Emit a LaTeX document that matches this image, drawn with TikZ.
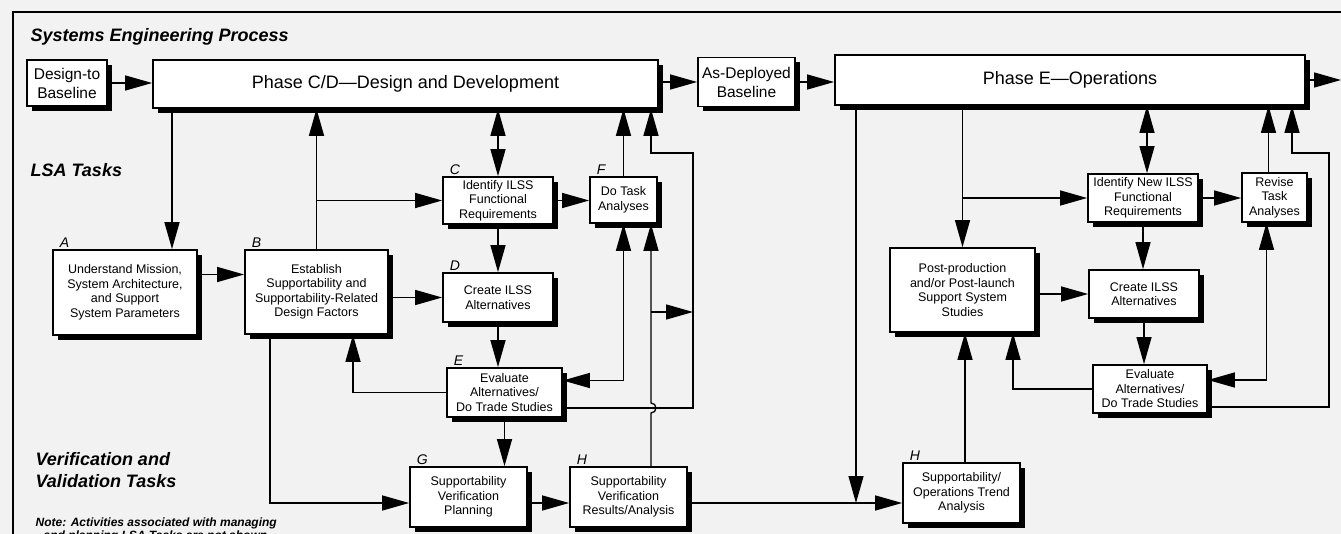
\documentclass[tikz,border=0pt]{standalone}
\usepackage{fontspec}
\setmainfont{Liberation Sans}
\usetikzlibrary{arrows.meta,calc,shadows}

\begin{document}
\begin{tikzpicture}[x=1pt,y=-1pt,>={Triangle[length=27pt,width=15pt]},line width=1.3pt,
  box/.style={draw,line width=1.7pt,fill=white,align=center,inner sep=1pt,
    font=\fontsize{12.5}{14.5}\selectfont,
    drop shadow={shadow xshift=5pt,shadow yshift=-5pt,fill=black,opacity=1}},
  big/.style={box,font=\fontsize{18}{20}\selectfont},
  base/.style={box,font=\fontsize{15.5}{19}\selectfont},
  sz/.style 2 args={minimum width=#1,minimum height=#2},
  lbl/.style={anchor=south west,inner sep=1pt,xshift=6pt,font=\fontsize{14}{14}\selectfont\itshape},
  head/.style={anchor=north west,inner sep=0pt,align=left,font=\fontsize{18}{22}\selectfont\bfseries\itshape}]
\useasboundingbox (0,0) rectangle (1341,534);
\clip (0,0) rectangle (1341,534);
\fill[black!5] (0,0) rectangle (1341,534);
\draw[line width=1.5pt] (13,534) -- (13,12) -- (1341,12);

\node[head] (SEP) at (30,28) {Systems Engineering Process};
\node[head] (LSA) at (30,163) {LSA Tasks};
\node[head] (VVT) at (35,452) {Verification and\\Validation Tasks};
\node[head,font=\fontsize{12}{13}\selectfont\bfseries\itshape] (NOTE) at (35,517)
  {Note: Activities associated with managing\\\hspace{8pt}and planning LSA Tasks are not shown.};

\node[base,sz={80}{46}] (DTB) at (67,83) {Design-to\\Baseline};
\node[big,sz={505}{48}] (PCD) at (405.5,84) {Phase C/D—Design and Development};
\node[base,sz={97}{49}] (ADB) at (746.5,82) {As-Deployed\\Baseline};
\node[big,sz={470}{50}] (PE) at (1070,80) {Phase E—Operations};

\node[box,sz={144}{85}] (A) at (125,292.5) {Understand Mission,\\System Architecture,\\and Support\\System Parameters};
\node[box,sz={143}{84}] (B) at (316.5,292) {Establish\\Supportability and\\Supportability-Related\\Design Factors};
\node[box,sz={110}{47}] (C) at (498,200.5) {Identify ILSS\\Functional\\Requirements};
\node[box,sz={67}{46}] (F) at (623.5,200) {Do Task\\Analyses};
\node[box,sz={110}{49}] (D) at (498,297.5) {Create ILSS\\Alternatives};
\node[box,sz={115}{49}] (E) at (504.5,392.5) {Evaluate\\Alternatives/\\Do Trade Studies};
\node[box,sz={117}{60}] (G) at (468.5,497) {Supportability\\Verification\\Planning};
\node[box,sz={117}{60}] (H) at (628.5,497) {Supportability\\Verification\\Results/Analysis};

\node[box,sz={110}{48}] (IN) at (1143,198) {Identify New ILSS\\Functional\\Requirements};
\node[box,sz={65}{49}] (RT) at (1274.5,197.5) {Revise\\Task\\Analyses};
\node[box,sz={145}{84}] (PP) at (962.5,290) {Post-production\\and/or Post-launch\\Support System\\Studies};
\node[box,sz={110}{48}] (CR) at (1144,294) {Create ILSS\\Alternatives};
\node[box,sz={114}{48}] (ER) at (1150,389) {Evaluate\\Alternatives/\\Do Trade Studies};
\node[box,sz={117}{60}] (SO) at (961.5,493) {Supportability/\\Operations Trend\\Analysis};

\foreach \n/\t in {A/A,B/B,C/C,D/D,E/E,F/F,G/G,H/H,SO/H}
  \node[lbl] at (\n.north west) {\t};

\coordinate (OUT) at (1341,82);\coordinate (vv) at (0,503);
\coordinate (xa) at (172,0);\coordinate (xe) at (353,0);\coordinate (xg) at (270,0);
\coordinate (xp) at (856,0);\coordinate (xq) at (651,0);\coordinate (xt) at (1013,0);
\coordinate (xs) at (1292,0);\coordinate (hop) at (651,413);\coordinate (br) at (651,312);
\coordinate (R1) at (693,153);\coordinate (R2) at (1329,153);

\draw[->] (DTB.east) -- (DTB.east -| PCD.west);
\draw[->] (ADB.west -| PCD.east) -- (ADB.west);
\draw[->] (ADB.east) -- (ADB.east -| PE.west);
\draw[->] (PE.east) -- (PE.east -| OUT);

\draw[->] (PCD.south -| xa) -- (A.north -| xa);
\draw[->] ([yshift=18pt]A.east) -- ([yshift=18pt]A.east -| B.west);
\draw[->] (B.north) -- (B.north |- PCD.south);
\draw[->] (B.north |- C.west) -- (C.west);
\draw[<->] (C.north) -- (C.north |- PCD.south);
\draw[->] (C.east) -- (C.east -| F.west);
\draw[->] (F.north) -- (F.north |- PCD.south);
\draw[->] (C.south) -- (C.south |- D.north);
\draw[->] (D.west -| B.east) -- (D.west);
\draw[->] (D.south) -- (D.south |- E.north);
\draw[->] (E.west) -| (B.south -| xe);
\draw[->] (B.south -| xg) |- (G.west |- vv);
\draw[->] (E.south) -- (E.south |- G.north);
\draw[->] (G.east |- vv) -- (H.west |- vv);
\draw[->] (H.east |- vv) -- (SO.west |- vv);
\draw[->] (PE.south -| xp) -- (vv -| xp);
\draw[<->] ([yshift=12pt]E.east) -| (F.south);
\draw[->] (H.north -| hop) -- (hop) arc[start angle=-90,end angle=90,radius=5pt] -- (F.south -| hop);
\draw[->] ([yshift=-15.5pt]E.east) -| (R1) -| (PCD.south -| xq);
\draw[->] (br) -- (br -| R1);

\draw[->] (PP.north |- PE.south) -- (PP.north);
\draw[->] (PP.north |- IN.west) -- (IN.west);
\draw[<->] ([xshift=4pt]IN.north) -- ([xshift=4pt]IN.north |- PE.south);
\draw[->] (IN.east) -- (IN.east -| RT.west);
\draw[->] ([xshift=-6pt]RT.north) -- ([xshift=-6pt]RT.north |- PE.south);
\draw[->] ([yshift=-18pt]ER.east) -| (R2) -| (PE.south -| xs);
\draw[->] (IN.south) -- (IN.south |- CR.north);
\draw[->] (CR.west -| PP.east) -- (CR.west);
\draw[->] (CR.south) -- (CR.south |- ER.north);
\draw[->] (ER.west) -| (PP.south -| xt);
\draw[<->] ([yshift=9pt]ER.east) -| ([xshift=-8pt]RT.south);
\draw[->] ([xshift=3.5pt]SO.north) -- ([xshift=3.5pt]SO.north |- PP.south);
\end{tikzpicture}
\end{document}
